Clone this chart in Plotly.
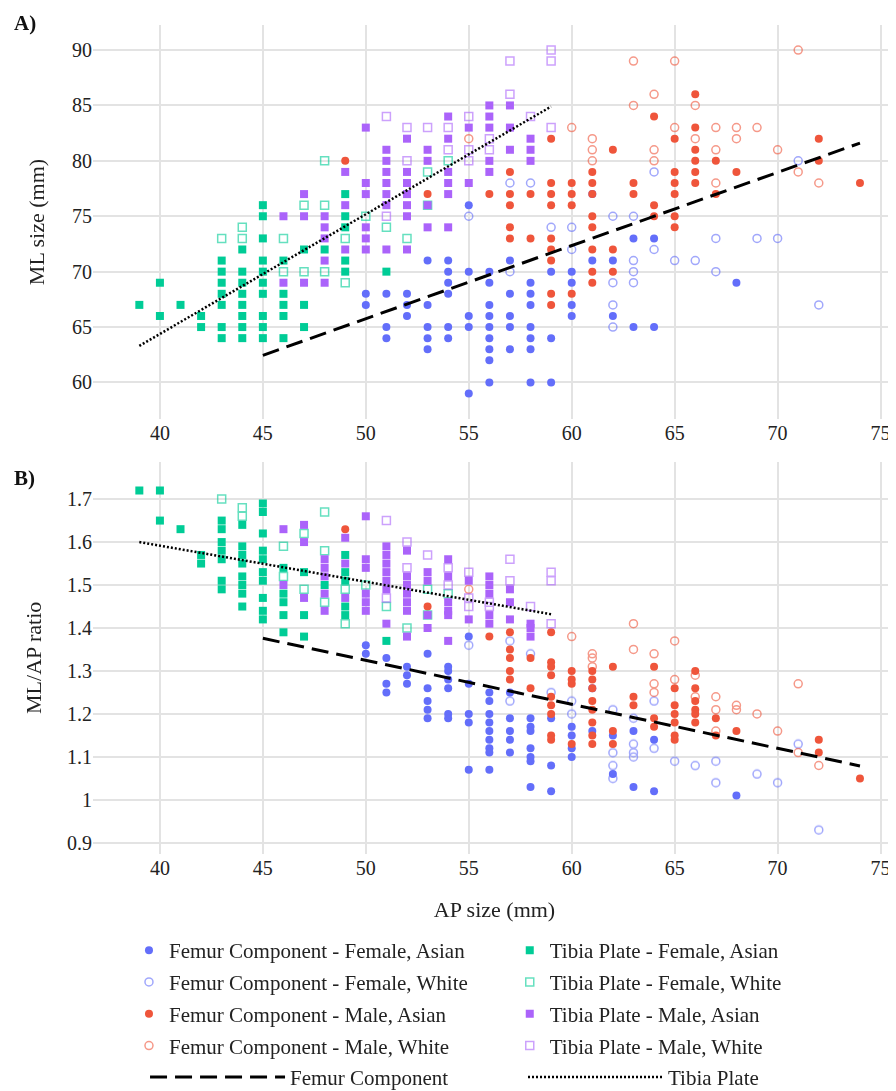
import numpy as np
import plotly.graph_objects as go

# ---------------- data (AP size in mm, ML size in mm) ----------------
# Femur Component - Female, Asian
ffa_ap = [50, 50, 51, 51, 51, 52, 52, 52, 53, 53, 53, 53, 53, 54, 54, 54, 54, 54, 54,
          55, 55, 55, 55, 55, 56, 56, 56, 56, 56, 56, 56, 56, 56, 57, 57, 57, 57, 57,
          58, 58, 58, 58, 58, 58, 58, 59, 59, 59, 60, 60, 60, 60, 61, 61, 62, 62,
          63, 63, 64, 64, 68]
ffa_ml = [68, 67, 68, 65, 64, 68, 67, 66, 71, 67, 65, 64, 63, 71, 70, 69, 68, 65, 64,
          76, 70, 66, 65, 59, 70, 69, 67, 66, 65, 64, 63, 62, 60, 71, 68, 66, 65, 63,
          69, 68, 67, 65, 64, 63, 60, 70, 64, 60, 70, 69, 67, 66, 77, 71, 71, 66,
          73, 65, 73, 65, 69]
# Femur Component - Female, White
ffw_ap = [55, 57, 57, 58, 59, 60, 60, 62, 62, 62, 62, 63, 63, 63, 63, 64, 64, 65, 66,
          67, 67, 69, 70, 71, 72]
ffw_ml = [75, 78, 70, 78, 74, 74, 72, 75, 69, 67, 65, 75, 71, 70, 69, 79, 72, 71, 71,
          73, 70, 73, 73, 80, 67]
# Femur Component - Male, Asian
fma_ap = [49, 53, 56, 57, 57, 57, 57, 57, 58, 58, 59, 59, 59, 59, 59, 59, 59, 59, 59,
          60, 60, 60, 60, 61, 61, 61, 61, 61, 61, 61, 61, 62, 62, 62, 63, 63, 64, 64, 64,
          65, 65, 65, 65, 65, 65, 66, 66, 66, 66, 66, 66, 67, 67, 68, 72, 72, 74]
fma_ml = [80, 77, 77, 79, 77, 76, 74, 73, 77, 73, 82, 78, 77, 76, 73, 72, 71, 68, 67,
          78, 77, 76, 68, 79, 78, 77, 75, 74, 72, 70, 69, 81, 72, 70, 78, 77, 84, 76, 75,
          82, 79, 78, 77, 75, 74, 86, 83, 81, 80, 79, 78, 80, 77, 79, 82, 80, 78]
# Femur Component - Male, White
fmw_ap = [55, 60, 61, 61, 61, 63, 63, 64, 64, 64, 65, 65, 66, 66, 67, 67, 67, 68, 68,
          69, 70, 71, 71, 72]
fmw_ml = [82, 83, 82, 81, 80, 89, 85, 86, 81, 80, 89, 83, 85, 82, 83, 81, 78, 83, 82,
          83, 81, 90, 79, 78]
# Tibia Plate - Female, Asian
tfa_ap = [39, 40, 40, 41, 42, 42, 43, 43, 43, 43, 43, 43, 43,
          44, 44, 44, 44, 44, 44, 44, 44, 45, 45, 45, 45, 45, 45, 45, 45, 45, 45,
          46, 46, 46, 46, 46, 47, 47, 47, 48, 49, 49, 49, 49, 49, 51]
tfa_ml = [67, 69, 66, 67, 66, 65, 71, 70, 69, 68, 67, 65, 64,
          72, 70, 69, 68, 67, 66, 65, 64, 76, 75, 73, 71, 70, 69, 68, 66, 65, 64,
          71, 68, 67, 66, 64, 72, 67, 65, 72, 77, 75, 74, 71, 70, 70]
# Tibia Plate - Female, White
tfw_ap = [43, 44, 44, 46, 46, 47, 47, 48, 48, 48, 49, 49, 50, 51, 52, 53, 53, 54]
tfw_ml = [73, 74, 73, 73, 70, 76, 70, 80, 76, 70, 73, 69, 75, 74, 73, 79, 76, 80]
# Tibia Plate - Male, Asian
tma_ap = [46, 46, 47, 47, 47, 48, 48, 48, 48, 48, 49, 49, 49, 50, 50, 50, 50, 50, 50,
          51, 51, 51, 51, 51, 51, 51, 52, 52, 52, 52, 52, 52, 52, 53, 53, 53, 53,
          54, 54, 54, 54, 54, 54, 55, 55, 56, 56, 56, 56, 56, 57, 57, 57, 58, 58, 58]
tma_ml = [75, 69, 77, 75, 69, 75, 74, 73, 71, 69, 79, 76, 72, 83, 78, 77, 74, 73, 72,
          81, 80, 79, 78, 77, 76, 72, 82, 79, 78, 77, 76, 75, 72, 81, 80, 76, 74,
          84, 82, 79, 78, 77, 74, 83, 78, 85, 84, 83, 80, 79, 85, 83, 81, 82, 81, 80]
# Tibia Plate - Male, White
tmw_ap = [51, 51, 52, 52, 53, 54, 54, 55, 55, 55, 56, 56, 57, 57, 58, 59, 59, 59]
tmw_ml = [84, 75, 83, 80, 83, 83, 81, 84, 81, 80, 82, 81, 89, 86, 84, 90, 89, 83]

# Trend lines
fem_fit_ap = [45, 74]
fem_fit_ml = [62.45, 81.6]
fem_fit_ratio = [1.376, 1.079]
tib_fit_ap = [39, 59]
tib_fit_ml = [63.3, 84.9]
tib_fit_ratio = [1.60, 1.432]

BLUE, RED, GREEN, PURPLE = "#636efa", "#ef553b", "#00cc96", "#ab63fa"
GRID = "#e3e3e3"
FONT = "Liberation Serif, Times New Roman, serif"
TXT = "#222"

groups = [
    ("Femur Component - Female, Asian", ffa_ap, ffa_ml, "circle", BLUE, "legend"),
    ("Femur Component - Female, White", ffw_ap, ffw_ml, "circle-open", BLUE, "legend"),
    ("Femur Component - Male, Asian", fma_ap, fma_ml, "circle", RED, "legend"),
    ("Femur Component - Male, White", fmw_ap, fmw_ml, "circle-open", RED, "legend"),
    ("Tibia Plate - Female, Asian", tfa_ap, tfa_ml, "square", GREEN, "legend2"),
    ("Tibia Plate - Female, White", tfw_ap, tfw_ml, "square-open", GREEN, "legend2"),
    ("Tibia Plate - Male, Asian", tma_ap, tma_ml, "square", PURPLE, "legend2"),
    ("Tibia Plate - Male, White", tmw_ap, tmw_ml, "square-open", PURPLE, "legend2"),
]

fig = go.Figure()
for i, (name, ap, ml, sym, col, leg) in enumerate(groups):
    ap = np.array(ap, dtype=float)
    ml = np.array(ml, dtype=float)
    is_open = sym.endswith("open")
    marker = dict(symbol=sym, size=8, color=col,
                  line=dict(width=1.5, color=col) if is_open else dict(width=0))
    op = 0.6 if is_open else 1.0
    fig.add_trace(go.Scatter(x=ap, y=ml, mode="markers", name=name, marker=marker,
                             opacity=op, legend=leg, legendgroup="g%d" % i,
                             xaxis="x", yaxis="y"))
    fig.add_trace(go.Scatter(x=ap, y=np.round(ml / ap, 2), mode="markers", name=name,
                             marker=marker, opacity=op, showlegend=False,
                             legendgroup="g%d" % i, xaxis="x2", yaxis="y2"))

fem_line = dict(color="black", width=3, dash="17px,8px")
tib_line = dict(color="black", width=2.5, dash="2px,2px")
fig.add_trace(go.Scatter(x=fem_fit_ap, y=fem_fit_ml, mode="lines", line=fem_line,
                         name="Femur Component", legend="legend3",
                         xaxis="x", yaxis="y"))
fig.add_trace(go.Scatter(x=tib_fit_ap, y=tib_fit_ml, mode="lines", line=tib_line,
                         name="Tibia Plate", legend="legend4",
                         xaxis="x", yaxis="y"))
fig.add_trace(go.Scatter(x=fem_fit_ap, y=fem_fit_ratio, mode="lines", line=fem_line,
                         showlegend=False, xaxis="x2", yaxis="y2"))
fig.add_trace(go.Scatter(x=tib_fit_ap, y=tib_fit_ratio, mode="lines", line=tib_line,
                         showlegend=False, xaxis="x2", yaxis="y2"))

common_x = dict(range=[36.75, 75.75], tick0=40, dtick=5, showgrid=True, gridcolor=GRID,
                gridwidth=1.5, zeroline=False, showline=False, ticks="", automargin=False,
                tickfont=dict(size=20, color=TXT))
common_y = dict(showgrid=True, gridcolor=GRID, gridwidth=1.5, zeroline=False,
                showline=False, ticks="", automargin=False, tickfont=dict(size=20, color=TXT))

leg_common = dict(orientation="v", xanchor="left", yanchor="top", itemwidth=30,
                  font=dict(size=21, color=TXT), bgcolor="rgba(0,0,0,0)",
                  tracegroupgap=1.5, traceorder="grouped")
line_leg = dict(orientation="v", xanchor="left", yanchor="top", itemwidth=135,
                font=dict(size=21, color=TXT), bgcolor="rgba(0,0,0,0)")

# The page adds an 8px body margin, so the figure is drawn 8px smaller.
fig.update_layout(
    width=888, height=1083,
    margin=dict(l=85, r=0, t=17, b=237, autoexpand=False),
    plot_bgcolor="white", paper_bgcolor="white",
    font=dict(family=FONT, size=20, color=TXT),
    xaxis=dict(domain=[0, 1], anchor="y", **common_x),
    yaxis=dict(domain=[0.5247, 1], anchor="x", range=[56.7, 92.26], tick0=60, dtick=5,
               title=dict(text="ML size (mm)", font=dict(size=22, color=TXT), standoff=21),
               **common_y),
    xaxis2=dict(domain=[0, 1], anchor="y2",
                title=dict(text="AP size (mm)", font=dict(size=22, color=TXT), standoff=23),
                **common_x),
    yaxis2=dict(domain=[0, 0.4732], anchor="x2", range=[0.874, 1.787], tick0=0, dtick=0.1,
                title=dict(text="ML/AP ratio", font=dict(size=22, color=TXT), standoff=19),
                **common_y),
    legend=dict(x=0.0448, y=-0.0917, **leg_common),
    legend2=dict(x=0.519, y=-0.0917, **leg_common),
    legend3=dict(x=0.0648, y=-0.2448, **line_leg),
    legend4=dict(x=0.5355, y=-0.2448, **line_leg),
    annotations=[
        dict(text="<b>A)</b>", xref="paper", yref="paper", x=-0.1009, y=1.0193,
             xanchor="left", yanchor="top", showarrow=False,
             font=dict(size=21, color="#111")),
        dict(text="<b>B)</b>", xref="paper", yref="paper", x=-0.1009, y=0.4536,
             xanchor="left", yanchor="middle", showarrow=False,
             font=dict(size=21, color="#111")),
    ],
)

fig.write_html("out.html")
